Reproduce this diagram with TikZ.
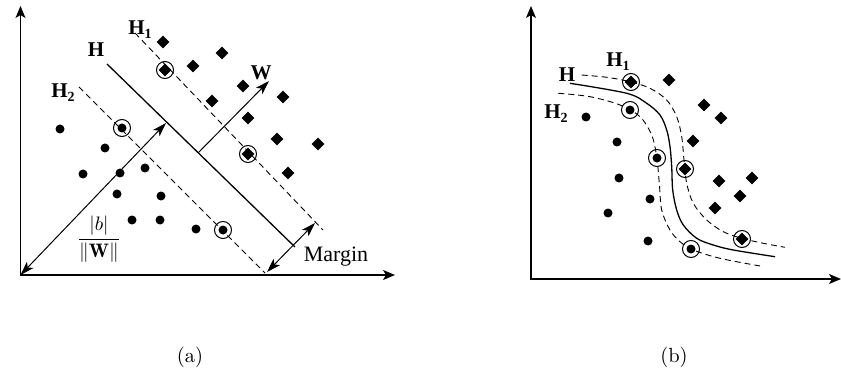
\documentclass[tikz,border=0pt]{standalone}
\usepackage{fontspec}
\newfontfamily\tnr{Liberation Serif}
\usetikzlibrary{arrows.meta,shapes.geometric}
\tikzset{
  axisln/.style={line width=1.2pt,{Stealth[length=12pt,width=10pt,inset=3pt]}-{Stealth[length=12pt,width=10pt,inset=3pt]}},
  solidln/.style={line width=1.3pt},
  dashln/.style={line width=0.9pt,dash pattern=on 6pt off 4pt},
  arr/.style={line width=1pt,-{Stealth[length=14pt,width=9pt,inset=3.5pt]}},
  darr/.style={line width=1pt,{Stealth[length=14pt,width=9pt,inset=3.5pt]}-{Stealth[length=14pt,width=9pt,inset=3.5pt]}},
  pdot/.style={circle,fill=black,inner sep=0pt,minimum size=9pt},
  pdia/.style={diamond,fill=black,inner sep=0pt,minimum size=13pt},
  pring/.style={circle,draw=black,line width=1pt,inner sep=0pt,minimum size=17pt},
  hlab/.style={font=\tnr\bfseries\fontsize{21}{22}\selectfont,inner sep=0pt},
  captext/.style={inner sep=0pt}
}
\newcommand{\sbn}[1]{\raisebox{-4pt}{\fontsize{14}{14}\selectfont #1}}
\begin{document}
\begin{tikzpicture}[x=1pt,y=-1pt]
\useasboundingbox (0,0) rectangle (841,377);
% ---------------- panel (a) ----------------
\coordinate (aO) at (20.5,275);
\coordinate (aY) at (20.5,6);
\coordinate (aX) at (395,275);
\draw[axisln] (aY) -- (aO) -- (aX);
% lines
\coordinate (H1s) at (135,33);  \coordinate (H1e) at (323,230);
\coordinate (Hs) at (107,64);   \coordinate (He) at (295,247);
\coordinate (H2s) at (79,87);   \coordinate (H2e) at (265,273);
\draw[dashln] (H1s) -- (H1e);
\draw[solidln] (Hs) -- (He);
\draw[dashln] (H2s) -- (H2e);
% dots
\foreach \x/\y [count=\i] in {60/129,105/148,83/174,120/173,145/168,117/194,161/196,132/220,160/220,196/229}
  \node[pdot] (ad\i) at (\x,\y) {};
\node[pdot] (ac1) at (122,128) {}; \node[pring] (acr1) at (ac1) {};
\node[pdot] (ac2) at (223,230) {}; \node[pring] (acr2) at (ac2) {};
% diamonds
\foreach \x/\y [count=\i] in {163/42,222/53,193/66,243/86,212/101,283/97,248/118,277/139,318/144,288/173}
  \node[pdia] (am\i) at (\x,\y) {};
\node[pdia] (acm1) at (165,70) {}; \node[pring] (acmr1) at (acm1) {};
\node[pdia] (acm2) at (248,154) {}; \node[pring] (acmr2) at (acm2) {};
% arrows
\coordinate (wS) at (198,153);
\coordinate (wE) at (269,81);
\draw[arr] (wS) -- (wE);
\coordinate (bE) at (166,123);
\draw[darr] (aO) -- (bE);
\coordinate (mS) at (267,272);
\coordinate (mE) at (315,223);
\draw[darr] (mS) -- (mE);
% labels
\node[hlab] (lH1) at (140,30) {H\sbn{1}};
\node[hlab] (lH) at (96,50) {H};
\node[hlab] (lH2) at (63,93) {H\sbn{2}};
\node[hlab] (lW) at (261,73) {W};
\node[font=\tnr\fontsize{22}{23}\selectfont,inner sep=0pt] (lM) at (336,257) {Margin};
\node[inner sep=0pt] (lb) at (99,239) {\scalebox{1.95}{$\displaystyle\frac{|b|}{\|\mathbf{W}\|}$}};
\node[captext] (capa) at (190,357) {\scalebox{2.05}{(a)}};
% ---------------- panel (b) ----------------
\coordinate (bO) at (531,279);
\coordinate (bY) at (531,6);
\coordinate (bX) at (841,279);
\draw[axisln] (bY) -- (bO) -- (bX);
\draw[solidln] plot[smooth,tension=0.55] coordinates {(570,83.3) (626.7,93.3) (646.7,103.3) (660,115) (666.7,130) (670,146.7) (671.7,166.7) (672.7,190) (676.7,210) (683.3,225) (696.7,238.3) (713.3,245) (733.3,250) (775,256.7)};
\draw[dashln] plot[smooth,tension=0.55] coordinates {(581.7,75) (606.7,77.3) (630,81.7) (650,88.3) (666.7,100) (676.7,116.7) (681.7,136.7) (684,160) (686.7,183.3) (693.3,203.3) (706.7,220) (723.3,231.7) (741.7,238.3) (763.3,243.3) (785,247.3)};
\draw[dashln] plot[smooth,tension=0.55] coordinates {(558.3,93.3) (590,96.7) (620,105) (640,116.7) (651.7,135) (656.7,156.7) (659.3,183.3) (661.7,210) (670,230) (680,241.7) (693.3,250) (720,258.3) (760,266)};
\foreach \x/\y [count=\i] in {586/117,617/142,619/178,650/199,608/213,648/241}
  \node[pdot] (bd\i) at (\x,\y) {};
\node[pdot] (bc1) at (630,110) {}; \node[pring] (bcr1) at (bc1) {};
\node[pdot] (bc2) at (657,158) {}; \node[pring] (bcr2) at (bc2) {};
\node[pdot] (bc3) at (691,249) {}; \node[pring] (bcr3) at (bc3) {};
\foreach \x/\y [count=\i] in {669/80,704/105,721/118,693/141,719/181,752/178,740/196,715/208}
  \node[pdia] (bm\i) at (\x,\y) {};
\node[pdia] (bcm1) at (631,82) {}; \node[pring] (bcmr1) at (bcm1) {};
\node[pdia] (bcm2) at (685,169) {}; \node[pring] (bcmr2) at (bcm2) {};
\node[pdia] (bcm3) at (742,239) {}; \node[pring] (bcmr3) at (bcm3) {};
\node[hlab] (blH1) at (618,62) {H\sbn{1}};
\node[hlab] (blH) at (567,75) {H};
\node[hlab] (blH2) at (556,114) {H\sbn{2}};
\node[captext] (capb) at (674,357) {\scalebox{2.05}{(b)}};
\end{tikzpicture}
\end{document}
